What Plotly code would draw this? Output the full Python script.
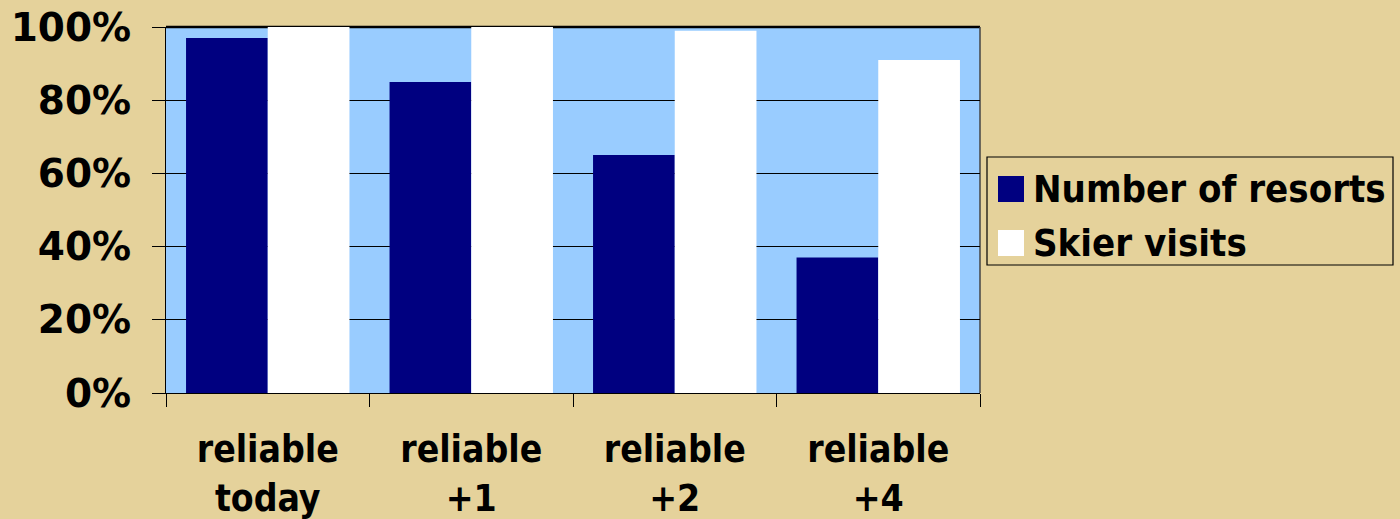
import plotly.graph_objects as go

# Share of resorts and skier visits that stay snow-reliable under warming scenarios
categories = ["reliable<br>today", "reliable<br>+1", "reliable<br>+2", "reliable<br>+4"]
resorts = [0.97, 0.85, 0.65, 0.37]
skier_visits = [1.00, 1.00, 0.99, 0.91]
y_ticks = [0, 0.2, 0.4, 0.6, 0.8, 1.0]
series_names = ["Number of resorts", "Skier visits"]
series_colors = ["#000080", "#FFFFFF"]

BG = "#E5D29B"
FONT = "DejaVu Sans Condensed"
W, H = 1400, 519
ML, MR, MT, MB = 166, 420, 27, 126
PW, PH = W - ML - MR, H - MT - MB


def px(x):
    """Pixel column -> paper x."""
    return (x - ML) / PW


def py(y):
    """Pixel row -> paper y."""
    return (H - MB - y) / PH


fig = go.Figure()
for name, color, vals in zip(series_names, series_colors, [resorts, skier_visits]):
    fig.add_trace(go.Bar(x=categories, y=vals, name=name, showlegend=False,
                         marker=dict(color=color, line=dict(width=0))))

# Legend box with large colour swatches
shapes = [
    dict(type="line", xref="paper", yref="paper", x0=0, x1=1, y0=1, y1=1,
         line=dict(color="black", width=2.5), layer="below"),
    dict(type="line", xref="paper", yref="paper", x0=1, x1=1, y0=0, y1=1,
         line=dict(color="#444444", width=1.5), layer="below"),
    dict(type="rect", xref="paper", yref="paper",
         x0=px(987), x1=px(1393), y0=py(265), y1=py(157),
         line=dict(color="black", width=1.2), fillcolor=BG),
]
annotations = []
row_centers = [189, 243]
for name, color, yc in zip(series_names, series_colors, row_centers):
    shapes.append(dict(type="rect", xref="paper", yref="paper",
                       x0=px(998), x1=px(1024), y0=py(yc + 13), y1=py(yc - 13),
                       line=dict(width=0), fillcolor=color))
    annotations.append(dict(xref="paper", yref="paper", x=px(1031), y=py(yc),
                            xanchor="left", yanchor="middle", showarrow=False,
                            text=name,
                            font=dict(family=FONT, size=38, color="black",
                                      weight="bold")))

fig.update_layout(
    width=W, height=H,
    paper_bgcolor=BG, plot_bgcolor="#99CCFF",
    margin=dict(l=ML, r=MR, t=MT, b=MB, autoexpand=False),
    barmode="group", bargap=0.197, bargroupgap=0,
    font=dict(family=FONT, size=37, color="black"),
    showlegend=False,
    xaxis=dict(
        tickson="boundaries", ticks="outside", ticklen=13, tickcolor="black",
        showline=True, linecolor="black", linewidth=1,
        tickfont=dict(family=FONT, size=37, weight="bold"),
        ticklabelstandoff=24, automargin=False,
        showgrid=False,
    ),
    yaxis=dict(
        range=[0, 1], tickvals=y_ticks, tickformat=".0%",
        ticks="outside", ticklen=13, tickcolor="black",
        showline=True, linecolor="black", linewidth=1,
        showgrid=True, gridcolor="black", gridwidth=1,
        tickfont=dict(family="DejaVu Sans", size=39, weight="bold"),
        ticklabelstandoff=13, zeroline=False, automargin=False,
    ),
    shapes=shapes,
    annotations=annotations,
)

fig.write_html("out.html")
